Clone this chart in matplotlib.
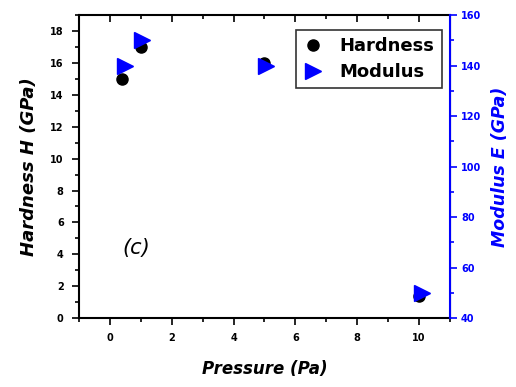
import matplotlib
matplotlib.use("Agg")
import matplotlib.pyplot as plt
from matplotlib.ticker import MultipleLocator

# Hardness and modulus versus deposition pressure
pressure_h = [0.4, 1.0, 5.0, 10.0]
hardness = [15.0, 17.0, 16.0, 1.4]
pressure_e = [0.5, 1.05, 5.05, 10.1]
modulus = [140.0, 150.0, 140.0, 50.0]

x_ticks = [0, 2, 4, 6, 8, 10]
h_ticks = [0, 2, 4, 6, 8, 10, 12, 14, 16, 18]
e_ticks = [40, 60, 80, 100, 120, 140, 160]

plt.rcParams['font.family'] = ['DejaVu Sans']

fig = plt.figure(figsize=(5.16, 3.87), dpi=100)
ax = fig.add_axes([0.153, 0.178, 0.719, 0.783])
ax2 = ax.twinx()

h1, = ax.plot(pressure_h, hardness, 'o', color='black', markersize=8,
              label='Hardness', zorder=3)
h2, = ax2.plot(pressure_e, modulus, '>', color='blue', markersize=11,
               markeredgecolor='blue', label='Modulus', zorder=4)

ax.set_xlim(-1, 11)
ax.set_ylim(0, 19)
ax2.set_ylim(40, 160)

ax.set_xticks(x_ticks)
ax.set_yticks(h_ticks)
ax2.set_yticks(e_ticks)
ax.xaxis.set_minor_locator(MultipleLocator(1))
ax.yaxis.set_minor_locator(MultipleLocator(1))
ax2.yaxis.set_minor_locator(MultipleLocator(10))

tick_font = dict(fontsize=7, fontweight='bold')
ax.set_xticklabels([str(v) for v in x_ticks], **tick_font)
ax.set_yticklabels([str(v) for v in h_ticks], **tick_font)
ax2.set_yticklabels([str(v) for v in e_ticks], color='blue', **tick_font)

ax.tick_params(axis='x', which='both', direction='out', top=True, width=1.2)
ax.tick_params(axis='x', which='major', length=5, pad=6)
ax.tick_params(axis='x', which='minor', length=3)
ax.tick_params(axis='y', which='major', direction='out', length=5, width=1.2,
               pad=6)
ax.tick_params(axis='y', which='minor', direction='out', length=3, width=1.2)
ax2.tick_params(axis='y', which='major', direction='out', length=5, width=1.2,
                color='blue', labelcolor='blue', pad=3)
ax2.tick_params(axis='y', which='minor', direction='out', length=3, width=1.2,
                color='blue')

# top axis ticks point into the plot
for t in ax.xaxis.get_major_ticks() + ax.xaxis.get_minor_ticks():
    t.tick2line.set_marker(3)

for s in ['left', 'bottom', 'top']:
    ax.spines[s].set_linewidth(1.5)
ax2.spines['right'].set_color('blue')
ax2.spines['right'].set_linewidth(1.5)
ax2.spines['left'].set_visible(False)
ax2.spines['top'].set_visible(False)
ax2.spines['bottom'].set_visible(False)

label_font = dict(fontweight='bold', style='italic')
ax.set_xlabel('Pressure (Pa)', fontsize=12, labelpad=12, **label_font)
ax.set_ylabel('Hardness H (GPa)', fontsize=13, labelpad=9, **label_font)
ax2.set_ylabel('Modulus E (GPa)', fontsize=12.5, color='blue', labelpad=7,
               **label_font)

ax.text(0.87, 4.4, '(c)', fontsize=15, style='italic',
        fontweight='light', ha='center', va='center')

leg = ax2.legend(handles=[h1, h2], loc='upper right',
                 bbox_to_anchor=(0.978, 0.952), frameon=True, fancybox=False,
                 edgecolor='black', prop=dict(size=13, weight='bold'),
                 handletextpad=1.0, borderpad=0.4, labelspacing=0.45,
                 handlelength=1.0, borderaxespad=0)
leg.get_frame().set_linewidth(1.2)

fig.savefig('out.png', dpi=100)
